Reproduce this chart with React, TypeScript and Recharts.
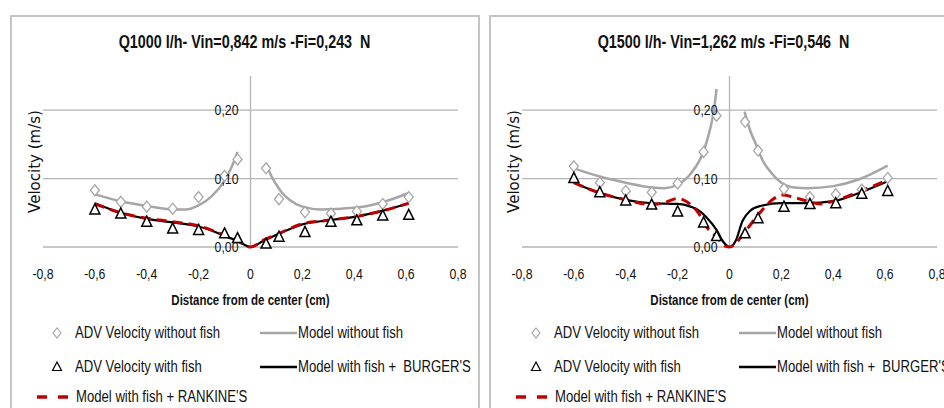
import React from 'react';
import {
  ComposedChart,
  Line,
  Scatter,
  XAxis,
  YAxis,
  ReferenceLine,
} from 'recharts';

const xTicks = [-0.8, -0.6, -0.4, -0.2, 0, 0.2, 0.4, 0.6, 0.8];
const yTicks = [0, 0.1, 0.2];

// measurement positions (cm)
const advX = [-0.6, -0.5, -0.4, -0.3, -0.2, -0.1, -0.05, 0.06, 0.11, 0.21, 0.31, 0.41, 0.51, 0.61];

// Q1000 l/h
const q1000Title = 'Q1000 l/h- Vin=0,842 m/s -Fi=0,243  N';
const q1000NoFish = [0.083, 0.066, 0.059, 0.056, 0.073, 0.104, 0.128, 0.115, 0.07, 0.051, 0.049, 0.052, 0.063, 0.073];
const q1000Fish = [0.055, 0.049, 0.037, 0.027, 0.025, 0.02, 0.013, 0.005, 0.015, 0.022, 0.037, 0.039, 0.046, 0.047];
const q1000ModelLeftX = [-0.6, -0.5, -0.4, -0.3, -0.25, -0.2, -0.15, -0.1, -0.075, -0.05];
const q1000ModelLeft = [0.077, 0.067, 0.06, 0.055, 0.055, 0.061, 0.074, 0.097, 0.115, 0.139];
const q1000ModelRightX = [0.06, 0.08, 0.1, 0.12, 0.15, 0.2, 0.27, 0.35, 0.45, 0.53, 0.61];
const q1000ModelRight = [0.123, 0.104, 0.091, 0.08, 0.069, 0.059, 0.055, 0.056, 0.06, 0.068, 0.079];
const q1000BurgerX = [-0.6, -0.5, -0.4, -0.3, -0.2, -0.15, -0.1, -0.05, 0, 0.05, 0.1, 0.15, 0.2, 0.3, 0.4, 0.5, 0.61];
const q1000Burger = [0.064, 0.05, 0.041, 0.036, 0.03, 0.024, 0.016, 0.009, 0, 0.009, 0.018, 0.026, 0.033, 0.039, 0.044, 0.052, 0.064];
const q1000RankineX = [-0.6, -0.5, -0.4, -0.3, -0.2, -0.1, -0.05, 0, 0.05, 0.1, 0.2, 0.3, 0.4, 0.5, 0.61];
const q1000Rankine = [0.063, 0.05, 0.042, 0.037, 0.031, 0.017, 0.009, 0, 0.01, 0.018, 0.034, 0.039, 0.044, 0.052, 0.064];

// Q1500 l/h
const q1500Title = 'Q1500 l/h- Vin=1,262 m/s -Fi=0,546  N';
const q1500NoFish = [0.118, 0.094, 0.082, 0.08, 0.093, 0.139, 0.192, 0.183, 0.141, 0.085, 0.073, 0.077, 0.084, 0.101];
const q1500Fish = [0.101, 0.08, 0.068, 0.062, 0.052, 0.036, 0.016, 0.02, 0.042, 0.059, 0.063, 0.064, 0.078, 0.082];
const q1500ModelLeftX = [-0.6, -0.5, -0.4, -0.3, -0.25, -0.2, -0.15, -0.1, -0.075, -0.06, -0.05];
const q1500ModelLeft = [0.115, 0.103, 0.094, 0.087, 0.086, 0.091, 0.107, 0.14, 0.172, 0.2, 0.231];
const q1500ModelRightX = [0.058, 0.08, 0.1, 0.13, 0.16, 0.2, 0.25, 0.3, 0.4, 0.5, 0.61];
const q1500ModelRight = [0.198, 0.17, 0.152, 0.125, 0.109, 0.094, 0.087, 0.086, 0.089, 0.099, 0.119];
const q1500BurgerX = [-0.6, -0.5, -0.4, -0.3, -0.2, -0.15, -0.12, -0.09, -0.05, -0.025, 0, 0.025, 0.05, 0.08, 0.12, 0.2, 0.3, 0.4, 0.5, 0.61];
const q1500Burger = [0.094, 0.079, 0.069, 0.064, 0.063, 0.059, 0.054, 0.044, 0.025, 0.008, 0, 0.01, 0.038, 0.053, 0.06, 0.064, 0.064, 0.067, 0.079, 0.096];
const q1500RankineX = [-0.6, -0.5, -0.4, -0.3, -0.25, -0.2, -0.15, -0.12, -0.09, -0.05, -0.015, 0, 0.025, 0.065, 0.115, 0.165, 0.205, 0.245, 0.3, 0.35, 0.4, 0.5, 0.61];
const q1500Rankine = [0.094, 0.079, 0.069, 0.062, 0.065, 0.071, 0.062, 0.05, 0.03, 0.015, 0.001, 0, 0.006, 0.025, 0.049, 0.069, 0.076, 0.073, 0.067, 0.063, 0.067, 0.081, 0.098];

const PANEL_W = 470;
const CHART_H = 290;
const Y_W = 33;
const margin = { top: 61, right: 22, bottom: 28, left: 0 };
const CENTER_X = Y_W + (PANEL_W - Y_W - margin.right) / 2;

const FONT = "'Liberation Sans', Arial, sans-serif";
const SQ = 0.82; // horizontal squeeze to mimic the narrow office font
const INK = '#111';
const GRID = '#b4b4b4';
const GRAY = '#a6a6a6';
const RED = '#c00000';

const pts = (xs: number[], ys: number[]) => xs.map((x, i) => ({ x, y: ys[i] }));
const fmt = (v: number, d: number) => (v === 0 && d === 1 ? '0' : v.toFixed(d).replace('.', ','));

const Diamond = (p: any) => (
  <path
    d={`M${p.cx},${p.cy - 5.5}L${p.cx + 4.5},${p.cy}L${p.cx},${p.cy + 5.5}L${p.cx - 4.5},${p.cy}Z`}
    fill="#fff"
    stroke={GRAY}
    strokeWidth={1.3}
  />
);

const Triangle = (p: any) => (
  <path
    d={`M${p.cx},${p.cy - 5.5}L${p.cx + 5},${p.cy + 4.5}L${p.cx - 5},${p.cy + 4.5}Z`}
    fill="#fff"
    stroke="#000"
    strokeWidth={1.5}
  />
);

const XTick = (p: any) => (
  <text
    transform={`translate(${p.x},${p.y}) scale(${SQ},1)`}
    dy="0.71em"
    textAnchor="middle"
    fontSize={15}
    fontFamily={FONT}
    fill={INK}
  >
    {fmt(p.payload.value, 1)}
  </text>
);

const YTick = (p: any) => (
  <text
    transform={`translate(${CENTER_X - 12},${p.y}) scale(${SQ},1)`}
    dy={5}
    textAnchor="end"
    fontSize={15}
    fontFamily={FONT}
    fill={INK}
  >
    {fmt(p.payload.value, 2)}
  </text>
);

const YTitle = (p: any) => {
  const vb = p.viewBox;
  const cx = vb.x + vb.width - 8;
  const cy = vb.y + vb.height / 2;
  return (
    <text
      x={cx}
      y={cy}
      transform={`rotate(-90 ${cx} ${cy})`}
      textAnchor="middle"
      dominantBaseline="central"
      fontSize={15}
      fontFamily="'DejaVu Sans', sans-serif"
      fill={INK}
    >
      Velocity (m/s)
    </text>
  );
};

function Squeezed(props: { left: number; top: number; size: number; text: string }) {
  return (
    <div
      style={{
        position: 'absolute',
        left: props.left,
        top: props.top,
        height: 20,
        lineHeight: '20px',
        fontSize: props.size,
        fontFamily: FONT,
        color: INK,
        whiteSpace: 'pre',
        transform: `scaleX(${SQ})`,
        transformOrigin: 'left center',
      }}
    >
      {props.text}
    </div>
  );
}

function Centered(props: { width: number; top: number; size: number; text: string }) {
  return (
    <div
      style={{
        position: 'absolute',
        left: 0,
        top: props.top,
        width: props.width,
        textAlign: 'center',
        lineHeight: '20px',
        height: 20,
      }}
    >
      <span
        style={{
          display: 'inline-block',
          fontSize: props.size,
          fontWeight: 'bold',
          fontFamily: FONT,
          color: INK,
          whiteSpace: 'pre',
          transform: `scaleX(${SQ})`,
          transformOrigin: 'center',
        }}
      >
        {props.text}
      </span>
    </div>
  );
}

function PanelLegend() {
  return (
    <>
      <svg style={{ position: 'absolute', left: 0, top: 300 }} width={PANEL_W} height={100}>
        <path d="M47,13L51,18L47,23L43,18Z" fill="#fff" stroke={GRAY} strokeWidth={1.2} />
        <line x1={250} x2={287} y1={18} y2={18} stroke={GRAY} strokeWidth={2.5} />
        <path d="M47,47L51.5,55.5L42.5,55.5Z" fill="#fff" stroke="#000" strokeWidth={1.2} />
        <line x1={250} x2={287} y1={52} y2={52} stroke="#000" strokeWidth={2.5} />
        <line x1={27} x2={58} y1={82} y2={82} stroke={RED} strokeWidth={3.5} strokeDasharray="10 11" />
      </svg>
      <Squeezed left={65} top={308} size={16} text="ADV Velocity without fish" />
      <Squeezed left={288} top={308} size={16} text="Model without fish" />
      <Squeezed left={65} top={342} size={16} text="ADV Velocity with fish" />
      <Squeezed left={288} top={342} size={16} text="Model with fish +  BURGER'S" />
      <Squeezed left={66} top={372} size={16} text="Model with fish + RANKINE'S" />
    </>
  );
}

interface PanelProps {
  left: number;
  title: string;
  noFish: number[];
  fish: number[];
  modelLeftX: number[];
  modelLeft: number[];
  modelRightX: number[];
  modelRight: number[];
  burgerX: number[];
  burger: number[];
  rankineX: number[];
  rankine: number[];
}

function Panel(props: PanelProps) {
  const model = [
    ...pts(props.modelLeftX, props.modelLeft),
    { x: 0, y: null },
    ...pts(props.modelRightX, props.modelRight),
  ];
  return (
    <div style={{ position: 'absolute', left: props.left, top: 15, width: PANEL_W, height: 420 }}>
      <div
        style={{
          position: 'absolute',
          inset: 0,
          border: '2px solid #c4c4c4',
          boxSizing: 'border-box',
          pointerEvents: 'none',
        }}
      />
      <Centered width={PANEL_W} top={17} size={17.5} text={props.title} />
      <div style={{ position: 'absolute', left: 0, top: 0 }}>
        <ComposedChart width={PANEL_W} height={CHART_H} margin={margin}>
          <XAxis
            dataKey="x"
            type="number"
            domain={[-0.8, 0.8]}
            ticks={xTicks}
            height={30}
            axisLine={false}
            tickLine={false}
            tickMargin={15}
            tick={<XTick />}
          />
          <YAxis
            type="number"
            domain={[0, 0.25]}
            ticks={yTicks}
            width={Y_W}
            axisLine={false}
            tickLine={false}
            tick={<YTick />}
            label={<YTitle />}
          />
          {yTicks.map((v) => (
            <ReferenceLine key={v} y={v} stroke={GRID} strokeWidth={1.3} />
          ))}
          <ReferenceLine x={0} stroke={GRID} strokeWidth={1.3} />
          <Line
            data={model}
            dataKey="y"
            type="monotone"
            stroke={GRAY}
            strokeWidth={2.5}
            dot={false}
            connectNulls={false}
            isAnimationActive={false}
          />
          <Line
            data={pts(props.burgerX, props.burger)}
            dataKey="y"
            type="monotone"
            stroke="#000"
            strokeWidth={2.2}
            dot={false}
            isAnimationActive={false}
          />
          <Line
            data={pts(props.rankineX, props.rankine)}
            dataKey="y"
            type="monotone"
            stroke={RED}
            strokeWidth={3}
            strokeDasharray="10 6"
            dot={false}
            isAnimationActive={false}
          />
          <Scatter data={pts(advX, props.noFish)} dataKey="y" shape={Diamond} isAnimationActive={false} />
          <Scatter data={pts(advX, props.fish)} dataKey="y" shape={Triangle} isAnimationActive={false} />
        </ComposedChart>
      </div>
      <Centered width={2 * CENTER_X} top={275} size={14} text="Distance from de center (cm)" />
      <PanelLegend />
    </div>
  );
}

export default function App() {
  return (
    <div
      style={{
        position: 'absolute',
        left: 0,
        top: 0,
        width: 944,
        height: 408,
        overflow: 'hidden',
        background: '#fff',
      }}
    >
      <Panel
        left={10}
        title={q1000Title}
        noFish={q1000NoFish}
        fish={q1000Fish}
        modelLeftX={q1000ModelLeftX}
        modelLeft={q1000ModelLeft}
        modelRightX={q1000ModelRightX}
        modelRight={q1000ModelRight}
        burgerX={q1000BurgerX}
        burger={q1000Burger}
        rankineX={q1000RankineX}
        rankine={q1000Rankine}
      />
      <Panel
        left={489}
        title={q1500Title}
        noFish={q1500NoFish}
        fish={q1500Fish}
        modelLeftX={q1500ModelLeftX}
        modelLeft={q1500ModelLeft}
        modelRightX={q1500ModelRightX}
        modelRight={q1500ModelRight}
        burgerX={q1500BurgerX}
        burger={q1500Burger}
        rankineX={q1500RankineX}
        rankine={q1500Rankine}
      />
    </div>
  );
}
